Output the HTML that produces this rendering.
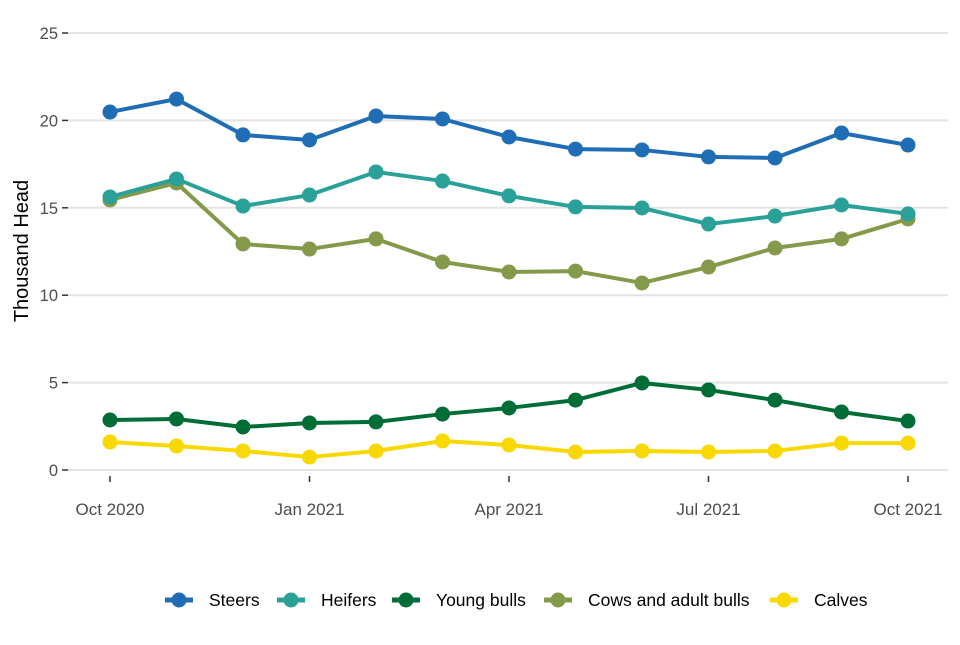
<!DOCTYPE html>
<html><head><meta charset="utf-8"><style>
body{margin:0;background:#fff;font-family:"Liberation Sans",Arial,sans-serif}
</style></head><body>
<svg id="chart" width="960" height="640" xmlns="http://www.w3.org/2000/svg">
<g id="grid"></g><g id="axes"></g><g id="series"></g><g id="legend"></g>
<text x="28" y="251" transform="rotate(-90 28 251)" text-anchor="middle" font-size="20" fill="#000">Thousand Head</text>
</svg>
<script>
const months = ["Oct 2020","Nov 2020","Dec 2020","Jan 2021","Feb 2021","Mar 2021","Apr 2021","May 2021","Jun 2021","Jul 2021","Aug 2021","Sep 2021","Oct 2021"];
const steers = [20.48,21.22,19.17,18.88,20.25,20.08,19.05,18.36,18.31,17.91,17.85,19.28,18.59];
const heifers = [15.62,16.65,15.10,15.73,17.05,16.53,15.68,15.05,14.99,14.07,14.53,15.16,14.65];
const youngBulls = [2.86,2.92,2.46,2.69,2.75,3.20,3.55,4.00,4.98,4.58,4.00,3.32,2.80];
const cows = [15.45,16.42,12.93,12.64,13.22,11.90,11.33,11.38,10.70,11.61,12.70,13.22,14.36];
const calves = [1.60,1.37,1.09,0.74,1.09,1.66,1.43,1.03,1.09,1.03,1.09,1.54,1.54];
const seriesNames = ["Steers","Heifers","Young bulls","Cows and adult bulls","Calves"];
const yTicks = [0,5,10,15,20,25];
const xTickIdx = [0,3,6,9,12];

const NS="http://www.w3.org/2000/svg";
const x = i => 110 + i*(908-110)/(months.length-1);
const y = v => 470 - v*(470-33)/25;
function mk(tag, attrs, parent, txt){const e=document.createElementNS(NS,tag);for(const k in attrs)e.setAttribute(k,attrs[k]);if(txt!==undefined)e.textContent=txt;parent.appendChild(e);return e;}
const grid=document.getElementById('grid'), axes=document.getElementById('axes'), sg=document.getElementById('series'), lg=document.getElementById('legend');
yTicks.forEach(t=>{
  const l=mk('line',{x1:68,x2:948,y1:y(t),y2:y(t),stroke:'#e3e3e3','stroke-width':2},grid);
  
  
  const tk=mk('line',{x1:62,x2:68,y1:y(t),y2:y(t),stroke:'#333','stroke-width':1.5},axes);
  
  
  const tx=mk('text',{x:58,y:y(t)+6,'text-anchor':'end','font-size':16.5,fill:'#4d4d4d'},axes,String(t));
  
  
});
xTickIdx.forEach(i=>{
  const tk=mk('line',{x1:x(i),x2:x(i),y1:476,y2:482,stroke:'#333','stroke-width':1.5},axes);
  
  
  const tx=mk('text',{x:x(i),y:515,'text-anchor':'middle','font-size':17,fill:'#4d4d4d'},axes,months[i]);
  
  
});
const data=[steers,heifers,youngBulls,cows,calves];
const colors=["#1f6db5","#2aa198","#006d36","#85994a","#f9d800"];
const order=[4,2,3,1,0];
order.forEach(s=>{
  const g=mk('g',{},sg);
  
  
  const pts=data[s].map((v,i)=>x(i)+','+y(v)).join(' ');
  const pl=mk('polyline',{points:pts,fill:'none',stroke:colors[s],'stroke-width':4,'stroke-linejoin':'round'},g);
  
  
  data[s].forEach((v,i)=>{
    const c=mk('circle',{cx:x(i),cy:y(v),r:7.5,fill:colors[s]},g);
    
    
  });
});
const lx=[179,291,406,558,784];
seriesNames.forEach((n,s)=>{
  const g=mk('g',{},lg);
  
  
  mk('line',{x1:lx[s]-14,x2:lx[s]+14,y1:600,y2:600,stroke:colors[s],'stroke-width':5},g);
  mk('circle',{cx:lx[s],cy:600,r:7.5,fill:colors[s]},g);
  mk('text',{x:lx[s]+30,y:606,'font-size':17.5,fill:'#000'},g,n);
});
</script>
</body></html>
